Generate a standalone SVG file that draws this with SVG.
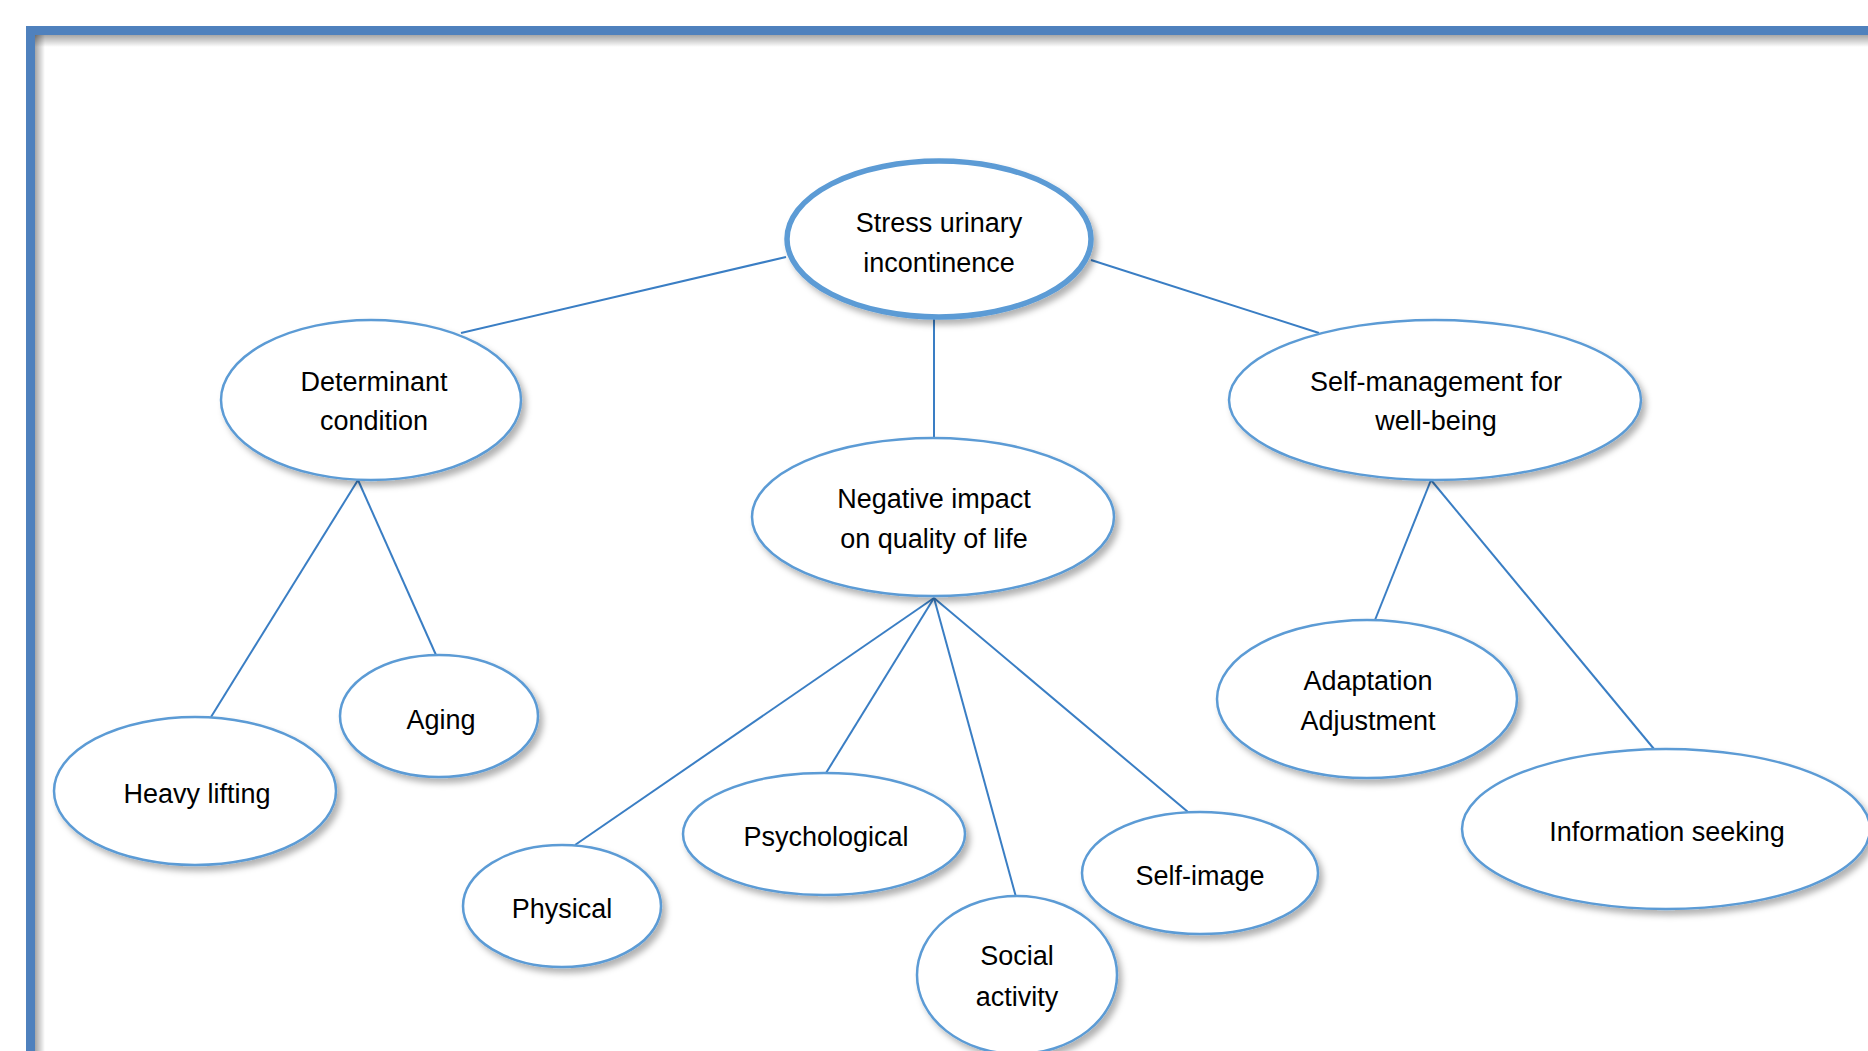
<svg xmlns="http://www.w3.org/2000/svg" width="1868" height="1051" viewBox="0 0 1868 1051">
<defs>
<style>
.node ellipse{fill:#fff;stroke:#5B9BD5;stroke-width:2.5;filter:url(#sh)}
.node text{font-family:"Liberation Sans",Arial,sans-serif;font-size:27px;fill:#000;text-anchor:middle}
#connectors line{stroke:#3A7EC4;stroke-width:2}
</style>
<filter id="sh" x="-10%" y="-10%" width="125%" height="130%">
<feDropShadow dx="4" dy="5" stdDeviation="3" flood-color="#000" flood-opacity="0.3"/>
</filter>
<linearGradient id="gt" x1="0" y1="0" x2="0" y2="1">
<stop offset="0" stop-color="#000" stop-opacity="0.35"/>
<stop offset="1" stop-color="#000" stop-opacity="0"/>
</linearGradient>
<linearGradient id="gl" x1="0" y1="0" x2="1" y2="0">
<stop offset="0" stop-color="#000" stop-opacity="0.35"/>
<stop offset="1" stop-color="#000" stop-opacity="0"/>
</linearGradient>
</defs>
<rect width="1868" height="1051" fill="#fff"/>
<g id="frame">
<rect x="35" y="35" width="1840" height="12" fill="url(#gt)"/>
<rect x="35" y="35" width="10" height="1030" fill="url(#gl)"/>
<path d="M30.5 1060 V30.5 H1880" fill="none" stroke="#4F81BD" stroke-width="9"/>
</g>
<g id="connectors">
<line x1="786" y1="257" x2="461" y2="333"/>
<line x1="1091" y1="260" x2="1319" y2="333"/>
<line x1="934" y1="318" x2="934" y2="438"/>
<line x1="358" y1="480" x2="211" y2="717"/>
<line x1="358" y1="480" x2="436" y2="655"/>
<line x1="1431" y1="480" x2="1375" y2="620"/>
<line x1="1431" y1="480" x2="1654" y2="749"/>
<line x1="934" y1="598" x2="575" y2="845"/>
<line x1="934" y1="598" x2="826" y2="773"/>
<line x1="934" y1="598" x2="1016" y2="897"/>
<line x1="934" y1="598" x2="1188" y2="812"/>
</g>
<g id="root" class="node">
<ellipse cx="939" cy="239" rx="152" ry="78" style="stroke-width:5.5"/>
<text x="939" y="232">Stress urinary</text>
<text x="939" y="272">incontinence</text>
</g>
<g id="determinant" class="node">
<ellipse cx="371" cy="400" rx="150" ry="80"/>
<text x="374" y="391">Determinant</text>
<text x="374" y="430">condition</text>
</g>
<g id="selfmanagement" class="node">
<ellipse cx="1435" cy="400" rx="206" ry="80"/>
<text x="1436" y="391">Self-management for</text>
<text x="1436" y="430">well-being</text>
</g>
<g id="negative" class="node">
<ellipse cx="933" cy="517" rx="181" ry="79"/>
<text x="934" y="508">Negative impact</text>
<text x="934" y="548">on quality of life</text>
</g>
<g id="heavy" class="node">
<ellipse cx="195" cy="791" rx="141" ry="74"/>
<text x="197" y="803">Heavy lifting</text>
</g>
<g id="aging" class="node">
<ellipse cx="439" cy="716" rx="99" ry="61"/>
<text x="441" y="729">Aging</text>
</g>
<g id="physical" class="node">
<ellipse cx="562" cy="906" rx="99" ry="61"/>
<text x="562" y="918">Physical</text>
</g>
<g id="psychological" class="node">
<ellipse cx="824" cy="834" rx="141" ry="61"/>
<text x="826" y="846">Psychological</text>
</g>
<g id="social" class="node">
<ellipse cx="1017" cy="975" rx="100" ry="79"/>
<text x="1017" y="965">Social</text>
<text x="1017" y="1006">activity</text>
</g>
<g id="selfimage" class="node">
<ellipse cx="1200" cy="873" rx="118" ry="61"/>
<text x="1200" y="885">Self-image</text>
</g>
<g id="adaptation" class="node">
<ellipse cx="1367" cy="699" rx="150" ry="79"/>
<text x="1368" y="690">Adaptation</text>
<text x="1368" y="730">Adjustment</text>
</g>
<g id="information" class="node">
<ellipse cx="1666" cy="829" rx="204" ry="80"/>
<text x="1667" y="841">Information seeking</text>
</g>
</svg>
